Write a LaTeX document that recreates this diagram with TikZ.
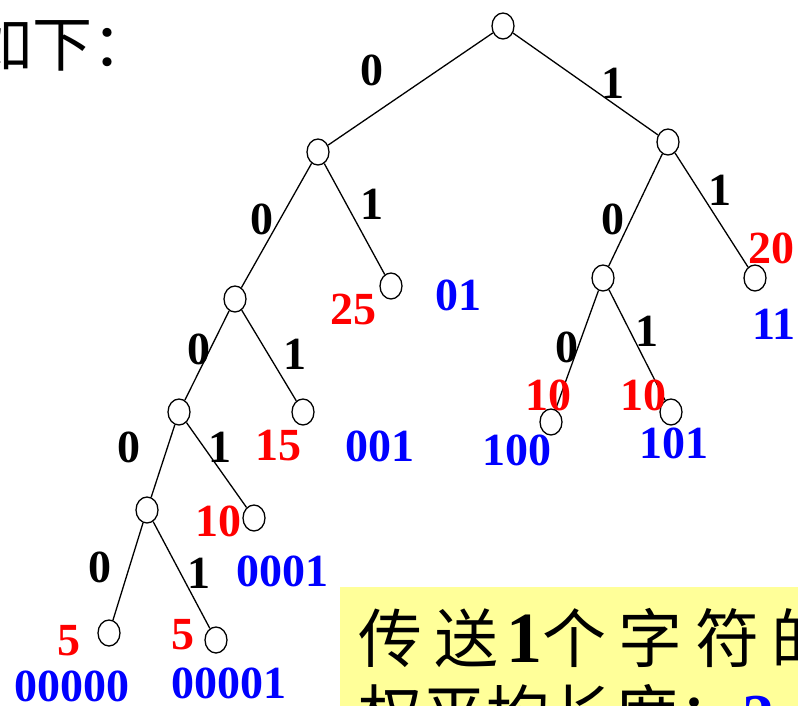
\documentclass[tikz,border=0pt]{standalone}
\usepackage{fontspec}
\setmainfont{Liberation Serif}
\newfontfamily\cjk{Noto Sans CJK SC}
\newfontfamily\cjkwide[LetterSpace=19]{Noto Sans CJK SC}
\usetikzlibrary{shapes.geometric}
\definecolor{notebg}{RGB}{255,255,153}

\begin{document}
\begin{tikzpicture}[x=1pt, y=-1pt, line width=1.3pt,
    knot/.style={draw, ellipse, minimum width=22pt, minimum height=26pt, inner sep=0pt},
    bit/.style={font=\fontsize{46}{46}\selectfont\bfseries, inner sep=0pt},
    wt/.style={bit, text=red},
    code/.style={bit, text=blue}]
    \useasboundingbox (0,0) rectangle (798,705);

    % heading, cut by the page edge
    \node[anchor=base west, inner sep=0pt, font=\cjk\fontsize{60}{60}\selectfont] (head) at (-28,66) {如下：};

    % tree
    \node[knot] (r) at (503,26) {};
    \node[knot] (n0) at (318,152) {};
    \node[knot] (n1) at (668,142) {};
    \node[knot] (n00) at (235,299) {};
    \node[knot] (n01) at (391,286) {};
    \node[knot] (n10) at (603,278) {};
    \node[knot] (n11) at (755,278) {};
    \node[knot] (n000) at (179,412) {};
    \node[knot] (n001) at (303,412) {};
    \node[knot] (n100) at (551,422) {};
    \node[knot] (n101) at (671,412) {};
    \node[knot] (n0000) at (147,510) {};
    \node[knot] (n0001) at (254,518) {};
    \node[knot] (n00000) at (109,633) {};
    \node[knot] (n00001) at (216,640) {};

    \foreach \a/\b in {r/n0, r/n1, n0/n00, n0/n01, n1/n10, n1/n11,
                       n00/n000, n00/n001, n10/n100, n10/n101,
                       n000/n0000, n000/n0001, n0000/n00000, n0000/n00001}
        \draw (\a) -- (\b);

    % branch bits
    \node[bit] (b0) at (372,70) {0};
    \node[bit] (b1) at (613,83) {1};
    \node[bit] (b00) at (262,219) {0};
    \node[bit] (b01) at (372,204) {1};
    \node[bit] (b10) at (613,219) {0};
    \node[bit] (b11) at (720,190) {1};
    \node[bit] (b000) at (199,349) {0};
    \node[bit] (b001) at (295,354) {1};
    \node[bit] (b100) at (567,347) {0};
    \node[bit] (b101) at (647,331) {1};
    \node[bit] (b0000) at (129,447) {0};
    \node[bit] (b0001) at (220,447) {1};
    \node[bit] (b00000) at (100,567) {0};
    \node[bit] (b00001) at (199,573) {1};

    % weights
    \node[wt] (w01) at (353,309) {25};
    \node[wt] (w11) at (771,248) {20};
    \node[wt] (w001) at (278,446) {15};
    \node[wt] (w100) at (548,395) {10};
    \node[wt] (w101) at (643,395) {10};
    \node[wt] (w0001) at (218,521) {10};
    \node[wt] (w00000) at (69,641) {5};
    \node[wt] (w00001) at (183,635) {5};

    % codes
    \node[code] (c01) at (458,295) {01};
    \node[code] (c11) at (774,324) {11};
    \node[code] (c001) at (380,446) {001};
    \node[code] (c100) at (517,450) {100};
    \node[code] (c101) at (674,443) {101};
    \node[code] (c0001) at (282,571) {0001};
    \node[code] (c00000) at (72,686) {00000};
    \node[code] (c00001) at (229,683) {00001};

    % note box
    \fill[notebg] (340,587) rectangle (820,720);
    \node[anchor=base west, inner sep=0pt, font=\cjkwide\fontsize{64}{64}\selectfont] (line1) at (358,662)
        {传送\hspace{8pt}{\rmfamily\bfseries\fontsize{72}{72}\selectfont 1}个字符的};
    \node[anchor=base west, inner sep=0pt, font=\cjk\fontsize{64}{64}\selectfont] (line2) at (358,738)
        {权平均长度：{\rmfamily\bfseries\color{blue}2}};
\end{tikzpicture}
\end{document}
